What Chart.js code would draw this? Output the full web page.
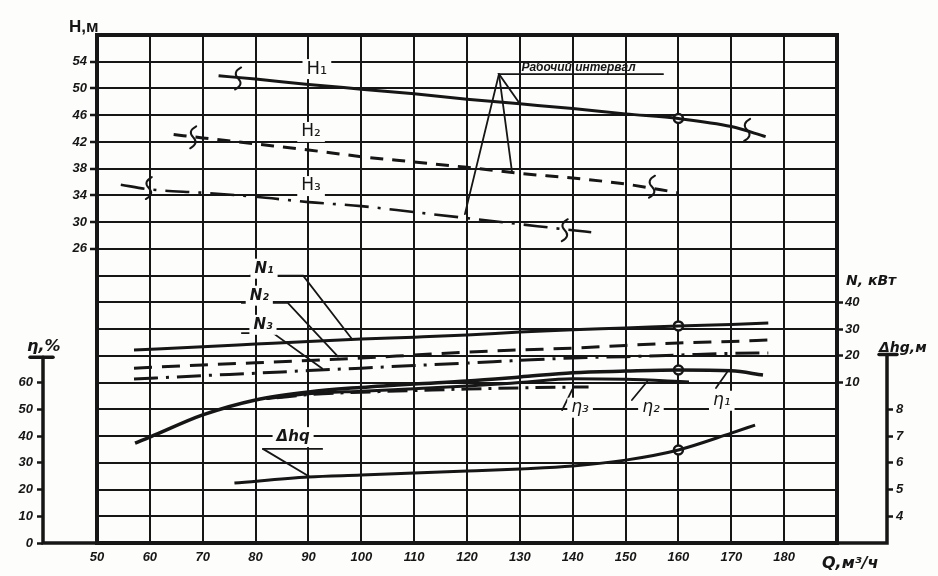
<!DOCTYPE html>
<html>
<head>
<meta charset="utf-8">
<script src="https://cdn.jsdelivr.net/npm/chart.js@4.4.1/dist/chart.umd.min.js"></script>
<style>
  html, body { margin: 0; padding: 0; background: #fdfdfc; }
  #wrap { width: 938px; height: 576px; }
</style>
</head>
<body>
<div id="wrap"><canvas id="pump"></canvas></div>
<script>
// Q, m3/h
const qH1 = [73, 80, 90, 100, 110, 120, 130, 140, 150, 160, 170, 176.5];
const h1 = [51.9, 51.4, 50.6, 49.9, 49.2, 48.4, 47.7, 47.0, 46.2, 45.5, 44.3, 42.8];
const qH2 = [64.5, 70, 80, 90, 100, 110, 120, 130, 140, 150, 160];
const h2 = [43.1, 42.6, 41.7, 40.8, 39.8, 39.0, 38.2, 37.3, 36.6, 35.7, 34.4];
const qH3 = [54.5, 60, 70, 80, 90, 100, 110, 120, 130, 140, 143.5];
const h3 = [35.6, 34.9, 34.4, 33.8, 33.0, 32.4, 31.5, 30.6, 29.7, 28.8, 28.5];

const qN = [57, 70, 80, 90, 100, 110, 120, 130, 140, 150, 160, 170, 177];
const n1 = [22.2, 23.4, 24.4, 25.4, 26.3, 27.0, 27.8, 28.9, 29.8, 30.4, 31.2, 31.7, 32.3];
const n2 = [15.4, 16.6, 17.4, 18.3, 19.2, 20.3, 21.4, 22.2, 22.9, 23.9, 24.8, 25.4, 25.9];
const n3 = [11.3, 12.6, 13.5, 14.5, 15.4, 16.4, 17.3, 18.3, 19.2, 19.7, 20.3, 20.9, 21.1];

const qE1 = [57.2, 60, 70, 80, 90, 100, 110, 120, 130, 140, 150, 160, 170, 176];
const eta1 = [37.4, 39.6, 47.9, 53.5, 56.5, 58.2, 59.5, 60.6, 62.1, 63.7, 64.3, 64.7, 64.4, 62.8];
const qE2 = [82, 90, 100, 110, 120, 130, 140, 150, 162];
const eta2 = [54.0, 55.8, 56.8, 57.7, 58.7, 60.0, 61.4, 61.2, 60.2];
const qE3 = [84, 90, 100, 110, 120, 130, 140, 143];
const eta3 = [54.3, 55.5, 56.4, 57.0, 57.6, 58.0, 58.3, 58.3];

const qDh = [76, 90, 100, 110, 120, 130, 140, 150, 160, 170, 174.5];
const dh = [5.24, 5.47, 5.54, 5.62, 5.69, 5.77, 5.88, 6.10, 6.48, 7.11, 7.41];

// nominal point, Q = 160
const opQ = [160];
const opH = [45.5];
const opN = [31.2];
const opEta = [64.7];
const opDh = [6.48];

// tick labels shown on each scale
const qLabels = [50, 60, 70, 80, 90, 100, 110, 120, 130, 140, 150, 160, 170, 180];
const hLabels = [26, 30, 34, 38, 42, 46, 50, 54];
const etaLabels = [0, 10, 20, 30, 40, 50, 60];
const nLabels = [10, 20, 30, 40];
const dhLabels = [4, 5, 6, 7, 8];

const ink = '#161616';
const tickFont = { family: '"Liberation Sans Narrow", "Liberation Sans", sans-serif', size: 13, style: 'italic', weight: 'bold' };

function curve(q, v, axis, width, dash) {
  return {
    data: q.map((x, i) => ({ x: x, y: v[i] })),
    yAxisID: axis,
    borderColor: ink,
    borderWidth: width,
    borderDash: dash || [],
    pointRadius: 0,
    fill: false,
    cubicInterpolationMode: 'monotone'
  };
}
function dot(q, v, axis) {
  return {
    data: q.map((x, i) => ({ x: x, y: v[i] })),
    yAxisID: axis,
    showLine: false,
    pointRadius: 4.5,
    pointBorderWidth: 2.5,
    pointBackgroundColor: '#fdfdfc',
    pointBorderColor: ink
  };
}
function only(list) {
  return s => { s.ticks = s.ticks.filter(t => list.includes(t.value)); };
}

// annotation texts: [text, q, value, axis, font]
const notes = [
  ['H\u2081', 91.6, 52.9, 'yH', '18px "DejaVu Sans"'],
  ['H\u2082', 90.5, 43.5, 'yH', '17px "DejaVu Sans"'],
  ['H\u2083', 90.5, 35.4, 'yH', '17px "DejaVu Sans"'],
  ['N\u2081', 81.6, 52.6, 'yN', 'bold italic 15px "DejaVu Sans"'],
  ['N\u2082', 80.7, 42.5, 'yN', 'bold italic 15px "DejaVu Sans"'],
  ['N\u2083', 81.4, 31.6, 'yN', 'bold italic 15px "DejaVu Sans"'],
  ['\u0394hq', 87.1, 6.96, 'yDh', 'bold italic 15px "DejaVu Sans"'],
  ['\u03b7\u2083', 141.4, 50.6, 'yEta', 'italic 17px "DejaVu Sans"'],
  ['\u03b7\u2082', 154.8, 50.6, 'yEta', 'italic 17px "DejaVu Sans"'],
  ['\u03b7\u2081', 168.2, 53.2, 'yEta', 'italic 17px "DejaVu Sans"']
];
// leader lines: axis, [[q, value], ...]
const leaders = [
  ['yH', [[157.1, 52.16], [126.05, 52.16], [130, 47.7]]],
  ['yH', [[126.05, 52.16], [128.5, 37.6]]],
  ['yH', [[126.05, 52.16], [119.6, 31.2]]],
  ['yN', [[78.9, 50.0], [89.0, 50.0], [98.2, 26.4]]],
  ['yN', [[77.4, 39.8], [86.1, 39.8], [95.6, 19.7]]],
  ['yN', [[77.4, 28.5], [83.3, 28.5], [92.6, 15.3]]],
  ['yDh', [[81.4, 6.52], [92.6, 6.52]]],
  ['yDh', [[81.4, 6.52], [90.3, 5.47]]],
  ['yEta', [[138.0, 49.7], [139.9, 57.4]]],
  ['yEta', [[151.2, 53.5], [154.1, 60.4]]],
  ['yEta', [[167.1, 58.0], [169.2, 63.9]]]
];
// break marks on the head curves
const breaks = [[76.7, 51.5], [173, 43.8], [68.2, 42.7], [155, 35.3], [59.8, 35.1], [138.5, 28.8]];

const decor = {
  id: 'decor',
  beforeDraw(chart) {
    const c = chart.ctx;
    c.save();
    c.fillStyle = '#fdfdfc';
    c.fillRect(0, 0, chart.width, chart.height);
    c.restore();
  },
  afterDraw(chart) {
    const c = chart.ctx, s = chart.scales, a = chart.chartArea;
    const X = q => s.x.getPixelForValue(q);
    const Y = (ax, v) => s[ax].getPixelForValue(v);
    const poly = pts => {
      c.beginPath();
      pts.forEach((p, i) => i ? c.lineTo(p[0], p[1]) : c.moveTo(p[0], p[1]));
      c.stroke();
    };
    c.save();
    c.strokeStyle = ink;
    c.fillStyle = ink;
    c.lineCap = 'round';

    // frame
    c.lineWidth = 4;
    c.strokeRect(a.left, a.top, a.right - a.left, a.bottom - a.top);

    // eta axis (left) and dhg axis (right)
    const ex = s.yEta.right, dx = s.yDh.left;
    const eTop = Y('yEta', 69.5), dTop = Y('yDh', 10.05);
    c.lineWidth = 3.5;
    poly([[a.left, a.bottom], [ex, a.bottom], [ex, eTop]]);
    poly([[ex - 13, eTop], [ex + 10, eTop]]);
    poly([[a.right, a.bottom], [dx, a.bottom], [dx, dTop]]);
    poly([[dx - 8, dTop], [dx + 10, dTop]]);

    // axis titles
    c.textBaseline = 'alphabetic';
    c.textAlign = 'left';
    c.font = 'bold 17px "Liberation Sans Narrow", "Liberation Sans", sans-serif';
    c.fillText('H,\u043c', 69, 32);
    c.font = 'bold italic 16px "DejaVu Sans"';
    c.fillText('\u03b7,%', 27, 351);
    c.font = 'bold italic 14px "DejaVu Sans"';
    c.fillText('N, \u043a\u0412\u0442', 846, 285);
    c.fillText('\u0394hg,\u043c', 879, 352);
    c.font = 'bold italic 16px "DejaVu Sans"';
    c.fillText('Q,\u043c\u00b3/\u0447', 822, 568);

    // leader lines
    c.lineWidth = 1.8;
    leaders.forEach(l => poly(l[1].map(p => [X(p[0]), Y(l[0], p[1])])));

    // "working interval" caption
    c.font = 'bold italic 12px "Liberation Sans", sans-serif';
    c.textAlign = 'left';
    c.fillText('\u0420\u0430\u0431\u043e\u0447\u0438\u0439 \u0438\u043d\u0442\u0435\u0440\u0432\u0430\u043b', X(130.3), Y('yH', 52.6));

    // curve labels on white patches
    c.textAlign = 'center';
    c.textBaseline = 'middle';
    notes.forEach(n => {
      const px = X(n[1]), py = Y(n[3], n[2]);
      c.font = n[4];
      const w = c.measureText(n[0]).width;
      c.fillStyle = '#fdfdfc';
      c.fillRect(px - w / 2 - 4, py - 10, w + 8, 20);
      c.fillStyle = ink;
      c.fillText(n[0], px, py);
    });

    // break marks
    c.lineWidth = 2;
    breaks.forEach(b => {
      const px = X(b[0]), py = Y('yH', b[1]);
      c.beginPath();
      c.moveTo(px + 3, py - 11);
      c.quadraticCurveTo(px - 6, py - 6, px, py);
      c.quadraticCurveTo(px + 6, py + 6, px - 3, py + 11);
      c.stroke();
    });
    c.restore();
  }
};

new Chart(document.getElementById('pump'), {
  type: 'line',
  data: {
    datasets: [
      curve(qH1, h1, 'yH', 3),
      curve(qH2, h2, 'yH', 3, [13, 9]),
      curve(qH3, h3, 'yH', 2.6, [24, 9, 3, 9]),
      curve(qN, n1, 'yN', 3),
      curve(qN, n2, 'yN', 3, [18, 10]),
      curve(qN, n3, 'yN', 3, [24, 8, 3, 8]),
      curve(qE1, eta1, 'yEta', 3.5),
      curve(qE2, eta2, 'yEta', 3),
      curve(qE3, eta3, 'yEta', 3, [20, 7, 3, 7]),
      curve(qDh, dh, 'yDh', 3),
      dot(opQ, opH, 'yH'),
      dot(opQ, opN, 'yN'),
      dot(opQ, opEta, 'yEta'),
      dot(opQ, opDh, 'yDh')
    ]
  },
  options: {
    responsive: true,
    maintainAspectRatio: false,
    animation: false,
    layout: { padding: { top: 35, left: 0, right: 0, bottom: 0 } },
    plugins: { legend: { display: false }, tooltip: { enabled: false } },
    scales: {
      x: {
        type: 'linear', position: 'bottom', min: 50, max: 190,
        ticks: { stepSize: 10, autoSkip: false, maxRotation: 0, padding: 7, color: ink, font: tickFont,
          callback: v => qLabels.includes(v) ? v : '' },
        grid: { color: ink, lineWidth: 2, drawTicks: false },
        border: { display: false },
        afterFit: s => { s.height = 33; }
      },
      yH: {
        position: 'left', min: -18, max: 58,
        ticks: { stepSize: 4, padding: 3, color: ink, font: tickFont,
          callback: v => hLabels.includes(v) ? v : '' },
        grid: { color: ink, lineWidth: 2, tickLength: 7, tickWidth: 2.5,
          tickColor: ctx => (ctx.tick && hLabels.includes(ctx.tick.value)) ? ink : 'rgba(0,0,0,0)' },
        border: { display: false },
        afterFit: s => { s.width = 54; }
      },
      yEta: {
        position: 'left', weight: 1, min: 0, max: 190,
        afterBuildTicks: only(etaLabels),
        ticks: { stepSize: 10, padding: 4, color: ink, font: tickFont },
        grid: { drawOnChartArea: false, color: ink, tickLength: 6, tickWidth: 2.5 },
        border: { display: false },
        afterFit: s => { s.width = 43; }
      },
      yN: {
        position: 'right', min: -50, max: 140,
        afterBuildTicks: only(nLabels),
        ticks: { stepSize: 10, padding: 2, color: ink, font: tickFont },
        grid: { drawOnChartArea: false, color: ink, tickLength: 6, tickWidth: 2.5 },
        border: { display: false },
        afterFit: s => { s.width = 50; }
      },
      yDh: {
        position: 'right', weight: 1, min: 3, max: 22,
        afterBuildTicks: only(dhLabels),
        ticks: { stepSize: 1, padding: 3, color: ink, font: tickFont },
        grid: { drawOnChartArea: false, color: ink, tickLength: 6, tickWidth: 2.5 },
        border: { display: false },
        afterFit: s => { s.width = 51; }
      }
    }
  },
  plugins: [decor]
});
</script>
</body>
</html>
